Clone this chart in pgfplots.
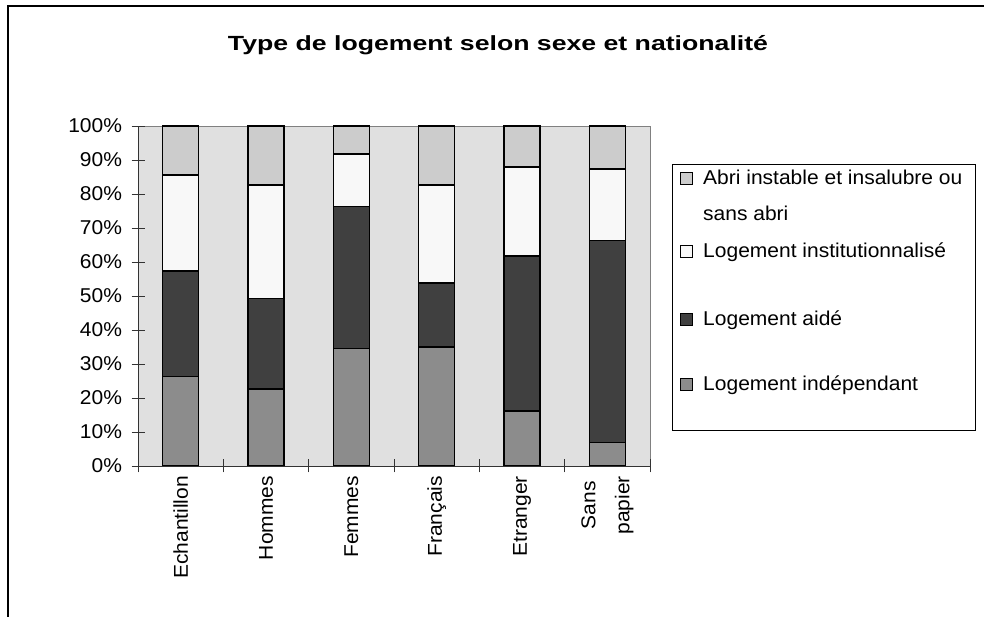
\documentclass[border=0pt]{standalone}
\usepackage{pgfplots}
\usepackage{pgfplotstable}
\pgfplotsset{compat=1.18}
\usepackage{fontspec}
\setmainfont[FakeStretch=1.05]{Liberation Sans}
\newfontfamily\titlefont[FakeStretch=1.3]{Liberation Sans}
\definecolor{cIndep}{HTML}{8C8C8C}
\definecolor{cAide}{HTML}{404040}
\definecolor{cInst}{HTML}{F8F8F8}
\definecolor{cAbri}{HTML}{CCCCCC}
\definecolor{cBg}{HTML}{E0E0E0}
\definecolor{cFrame}{HTML}{808080}
\tikzset{legrow/.code 2 args={\gdef\legH{#1}\gdef\legD{#2}}}

\pgfplotstableread{
x indep aide inst abri
0 26.3 31.1 28.2 14.4
1 22.7 26.5 33.4 17.4
2 34.5 41.8 15.4 8.3
3 35.0 18.8 28.8 17.4
4 16.2 45.5 26.3 12.0
5 6.9 59.4 21.1 12.6
}\datatable

\begin{document}
\begin{tikzpicture}
\useasboundingbox (0pt,0pt) rectangle (984pt,617pt);
\draw[line width=2pt] (8pt,0pt) -- (8pt,611pt) -- (990pt,611pt);
\node[font=\titlefont\bfseries\fontsize{20.5}{24}\selectfont, anchor=base] at (498pt,566pt) {Type de logement selon sexe et nationalité};
\begin{axis}[
  at={(138pt,151pt)}, anchor=south west,
  scale only axis, width=512pt, height=340pt,
  xmin=-0.5, xmax=5.5, ymin=0, ymax=100,
  ybar stacked, bar width=36pt,
  axis lines*=left,
  axis line style={draw=black!80, line width=0.8pt},
  axis background/.style={fill=cBg, draw=cFrame, line width=0.8pt},
  /pgf/number format/assume math mode=true,
  every tick label/.append style={font=\fontsize{20}{24}\selectfont},
  ytick={0,10,...,100},
  yticklabel={\pgfmathprintnumber{\tick}\%},
  yticklabel style={xshift=-6pt},
  xtick={-0.5,0.5,...,5.5},
  x tick label as interval,
  xticklabels={Echantillon,Hommes,Femmes,Fran\c{c}ais,Etranger,{Sans\\papier}},
  xticklabel style={rotate=90, anchor=east, align=center, font=\fontsize{20}{34}\selectfont},
  tick align=center, major tick length=13pt,
  tick style={draw=black!80, line width=0.8pt},
  reverse legend,
  legend style={at={(axis description cs:1.043,0.888)}, anchor=north west,
    draw=black, line width=0.8pt, fill=white, inner xsep=8pt, inner ysep=0pt,
    row sep=0pt, column sep=10pt, nodes={inner sep=0pt, anchor=base west},
    font=\fontsize{20}{24}\selectfont},
  legend cell align=left,
  every axis plot post/.append style={legend image code/.code={\draw[##1, draw=black, line width=0.8pt] (0pt,0pt) rectangle (12pt,12pt); \path[draw=none, fill=none] (0pt,-\legD) -- (0pt,\legH);}},
]
\addplot[fill=cIndep, draw=black, line width=1.5pt, legrow={33pt}{40pt}] table[x=x,y=indep]{\datatable};
\addplot[fill=cAide, draw=black, line width=1.5pt, legrow={34pt}{32pt}] table[x=x,y=aide]{\datatable};
\addplot[fill=cInst, draw=black, line width=1.5pt, legrow={30pt}{34pt}] table[x=x,y=inst]{\datatable};
\addplot[fill=cAbri, draw=black, line width=1.5pt, legrow={20pt}{43pt}] table[x=x,y=abri]{\datatable};
\legend{Logement indépendant,Logement aidé,Logement institutionnalisé,{\vtop{\baselineskip=36pt\hbox{Abri instable et insalubre ou\hspace{5pt}}\hbox{sans abri}}}}
\end{axis}
\end{tikzpicture}
\end{document}
